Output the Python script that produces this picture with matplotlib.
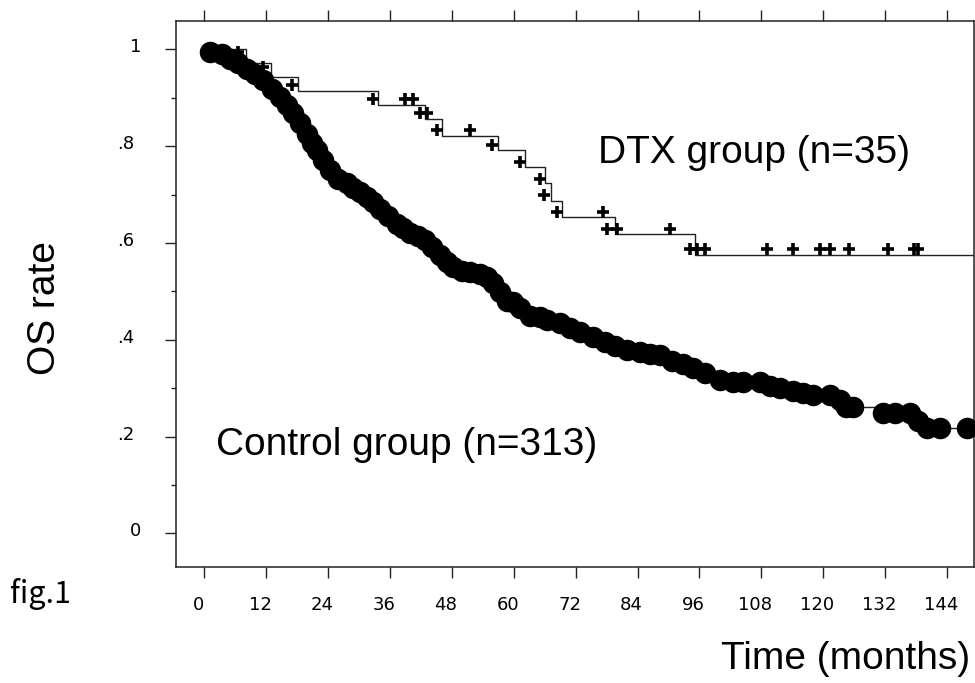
import matplotlib
matplotlib.use("Agg")
import matplotlib.pyplot as plt
import matplotlib.transforms as mtransforms
from matplotlib.ticker import MultipleLocator

plt.rcParams['font.family'] = ['Liberation Sans', 'DejaVu Sans']

# ---------------- data ----------------
# DTX group Kaplan-Meier step curve
dtx_time = [0, 8.1, 13.0, 18.2, 33.7, 42.8, 46.2, 57.0, 62.2, 66.1, 67.2, 69.3, 79.7, 95.2, 149.2]
dtx_surv = [1.0, 0.971, 0.943, 0.914, 0.884, 0.855, 0.821, 0.792, 0.757, 0.723, 0.687, 0.653, 0.618, 0.576, 0.576]

# DTX censor marks
dtx_cens_time = [6.6, 11.5, 17.0, 32.8, 39.0, 40.5, 41.9, 43.2, 45.1, 51.6, 55.8, 61.2, 65.1, 65.8,
                 68.4, 77.4, 78.0, 80.1, 90.3, 94.1, 95.5, 97.1, 109.1, 114.2, 119.4, 121.3, 124.9,
                 132.6, 137.5, 138.4]
dtx_cens_surv = [0.994, 0.963, 0.926, 0.897, 0.897, 0.897, 0.868, 0.868, 0.833, 0.833, 0.802, 0.768,
                 0.733, 0.699, 0.664, 0.664, 0.628, 0.628, 0.628, 0.587, 0.587, 0.587, 0.587, 0.587,
                 0.587, 0.587, 0.587, 0.587, 0.587, 0.587]

# Control group curve points (large filled circles)
ctrl_time = [1.2, 3.5, 5.0, 6.6, 8.3, 9.9, 11.4, 13.2, 14.7, 16.1, 17.2, 18.6, 19.9, 20.9, 21.8,
             23.1, 24.4, 26.0, 27.7, 28.9, 30.2, 31.5, 32.8, 34.1, 35.7, 37.3, 38.6, 39.9, 41.5,
             42.8, 44.2, 45.7, 47.1, 48.3, 50.0, 51.6, 53.5, 54.8, 56.0, 57.4, 58.7, 59.9, 61.2,
             63.2, 65.1, 66.5, 69.0, 70.9, 72.9, 75.4, 77.7, 79.7, 82.0, 84.5, 86.4, 88.4, 90.7,
             92.8, 94.8, 97.1, 100.0, 102.5, 104.5, 107.8, 109.7, 111.6, 114.1, 116.1, 118.0,
             121.3, 123.3, 124.4, 125.8, 131.6, 133.9, 136.8, 138.4, 140.1, 142.6, 147.9]
ctrl_surv = [0.995, 0.990, 0.981, 0.971, 0.960, 0.948, 0.936, 0.919, 0.901, 0.884, 0.868, 0.847,
             0.826, 0.806, 0.791, 0.771, 0.750, 0.733, 0.723, 0.713, 0.705, 0.695, 0.684, 0.671,
             0.655, 0.640, 0.630, 0.620, 0.614, 0.605, 0.591, 0.574, 0.560, 0.551, 0.543, 0.539,
             0.535, 0.529, 0.517, 0.498, 0.481, 0.477, 0.465, 0.450, 0.446, 0.440, 0.434, 0.424,
             0.415, 0.405, 0.395, 0.386, 0.378, 0.374, 0.370, 0.368, 0.357, 0.349, 0.341, 0.331,
             0.316, 0.312, 0.312, 0.312, 0.304, 0.300, 0.295, 0.289, 0.285, 0.285, 0.275, 0.260,
             0.260, 0.248, 0.248, 0.248, 0.233, 0.217, 0.217, 0.217]

x_ticks = [0, 12, 24, 36, 48, 60, 72, 84, 96, 108, 120, 132, 144]
x_tick_labels = [str(v) for v in x_ticks]
y_ticks = [0, 0.2, 0.4, 0.6, 0.8, 1.0]
y_tick_labels = ["0", ".2", ".4", ".6", ".8", "1"]

# ---------------- figure ----------------
W, H = 975, 683
fig = plt.figure(figsize=(W / 100, H / 100), dpi=100)
ax = fig.add_axes([176 / W, 1 - 567 / H, (974 - 176) / W, (567 - 21) / H])

ax.step(dtx_time, dtx_surv, where='post', color='#222222', lw=1.0, zorder=2)
ax.plot(dtx_cens_time, dtx_cens_surv, ls='none', marker='+', ms=9, mew=2.6,
        color='black', zorder=3)

ax.step(ctrl_time, ctrl_surv, where='post', color='#222222', lw=1.0, zorder=4)
ax.plot(ctrl_time, ctrl_surv, ls='none', marker='o', ms=15.5, mec='black', mfc='black',
        mew=0, zorder=5)

ax.set_xlim(-5.43, 149.2)
ax.set_ylim(-0.0696, 1.0585)

ax.set_xticks(x_ticks)
ax.set_xticklabels(x_tick_labels)
ax.set_yticks(y_ticks)
ax.set_yticklabels(y_tick_labels)
ax.yaxis.set_minor_locator(MultipleLocator(0.1))

tick_font = ['Liberation Sans Narrow', 'DejaVu Sans']
for lab in ax.get_xticklabels() + ax.get_yticklabels():
    lab.set_family(tick_font)
    lab.set_fontsize(13)

for sp in ax.spines.values():
    sp.set_linewidth(1.1)
    sp.set_color('#222222')

ax.tick_params(axis='x', which='major', direction='out', top=True, bottom=True,
               labeltop=False, length=8, width=1.0, pad=13, color='#222222')
ax.tick_params(axis='y', which='major', direction='out', left=True, right=False,
               length=8, width=1.0, pad=17, color='#222222')
ax.tick_params(axis='y', which='minor', direction='out', left=True, right=False,
               length=3.6, width=1.0, color='#222222')
ax.tick_params(axis='x', which='minor', bottom=False, top=False)

# small label offsets as in the original
xoff = mtransforms.ScaledTranslation(-6 / 100, 0, fig.dpi_scale_trans)
for lab in ax.get_xticklabels():
    lab.set_transform(lab.get_transform() + xoff)
for lab, txt in zip(ax.get_yticklabels(), y_tick_labels):
    dx = -7 / 100 if txt.startswith('.') else 0
    lab.set_transform(lab.get_transform() +
                      mtransforms.ScaledTranslation(dx, 4 / 100, fig.dpi_scale_trans))

# annotations
ax.text(76.4, 0.765, "DTX group (n=35)", fontsize=28, ha='left', va='baseline')
ax.text(2.3, 0.162, "Control group (n=313)", fontsize=28, ha='left', va='baseline')

fig.text(45 / W, 1 - 308 / H, "OS rate", rotation=90, fontsize=28, ha='center', va='center')
fig.text(970 / W, 1 - 669 / H, "Time (months)", fontsize=28, ha='right', va='baseline')
fig.text(10 / W, 1 - 603 / H, "fig.1", fontsize=22, ha='left', va='baseline',
         family=['Noto Sans CJK JP', 'DejaVu Sans'])

fig.savefig("out.png", dpi=100, facecolor='white')
